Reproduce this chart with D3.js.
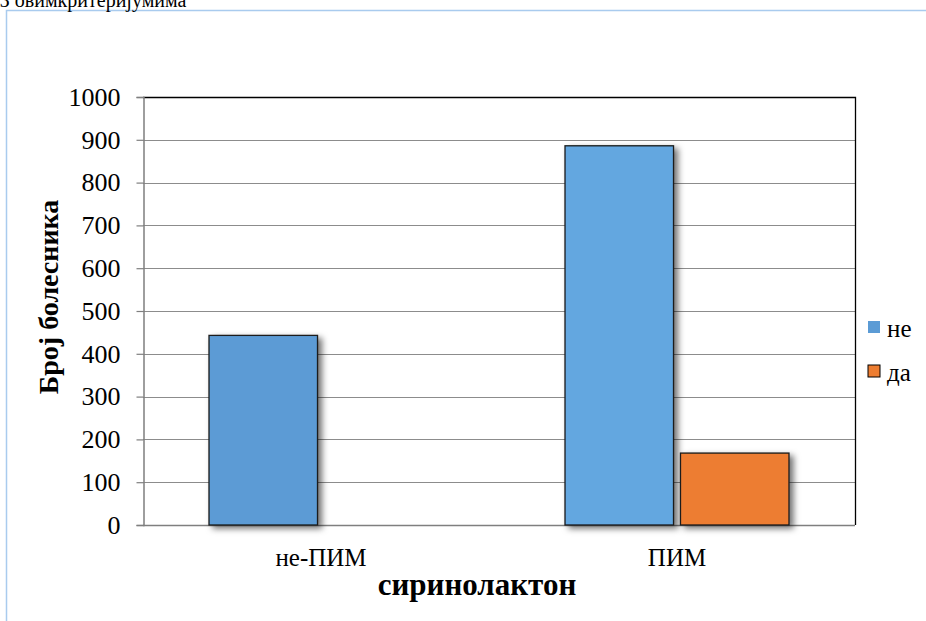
<!DOCTYPE html>
<html>
<head>
<meta charset="utf-8">
<script src="https://cdn.jsdelivr.net/npm/d3@7"></script>
</head>
<body style="margin:0; background:#fff">
<div id="view"></div>
<script>
var width = 926, height = 621;
var serif = "'Liberation Serif', 'Times New Roman', serif";

// data
var categories = ["не-ПИМ", "ПИМ"];
var seriesNames = ["не", "да"];
var valuesNe = [443, 886];
var valuesDa = [0, 168];
var yTicks = [0, 100, 200, 300, 400, 500, 600, 700, 800, 900, 1000];

var seriesColors = { "не": "#5B9BD5", "да": "#ED7D31" };
// the second blue bar is a touch lighter in the original
var barFill = function(d) {
  if (d.series == "не" && d.cat == "ПИМ") return "#63A7E0";
  return seriesColors[d.series];
};

var margin = { left: 143, top: 97, right: 855, bottom: 525 };

var svg = d3.select("#view").append("svg")
  .attr("width", width)
  .attr("height", height)
  .style("display", "block")
  .style("font-family", serif);

var defs = svg.append("defs");
var f = defs.append("filter").attr("id", "shadow")
  .attr("x", "-20%").attr("y", "-20%").attr("width", "150%").attr("height", "150%");
f.append("feDropShadow")
  .attr("dx", 4).attr("dy", 3)
  .attr("stdDeviation", 3)
  .attr("flood-color", "#000")
  .attr("flood-opacity", 0.55);

// outer frame (only top and left are in view)
svg.append("path")
  .attr("d", "M6.5," + height + " V10.5 H" + width)
  .attr("fill", "none")
  .attr("stroke", "#A9CBEE")
  .attr("stroke-width", 1.5);

// caption text at the very top, partly cut off in the source
svg.append("text")
  .attr("x", -8).attr("y", 7)
  .attr("font-size", 20)
  .style("font-family", serif)
  .text("ЈЗ овимкритеријумима");

var y = d3.scaleLinear().domain([0, 1000]).range([margin.bottom, margin.top]);
var x0 = d3.scaleBand().domain(categories).range([margin.left, margin.right]);
var x1 = d3.scaleBand().domain(seriesNames).range([0, 224]).paddingInner(14 / 224 * 2 / 2.07);

// gridlines
svg.append("g").selectAll("line")
  .data(yTicks.filter(function(t) { return t > 0 && t < 1000; }))
  .enter().append("line")
  .attr("x1", margin.left).attr("x2", margin.right)
  .attr("y1", function(d) { return Math.round(y(d)) + 0.5; })
  .attr("y2", function(d) { return Math.round(y(d)) + 0.5; })
  .attr("stroke", "#8C8C8C")
  .attr("stroke-width", 1);

// top and right border
svg.append("path")
  .attr("d", "M" + margin.left + "," + (Math.round(y(1000)) + 0.5) + " H" + (margin.right + 0.5) + " V" + margin.bottom)
  .attr("fill", "none")
  .attr("stroke", "#000")
  .attr("stroke-width", 1.3);

// y axis
var yAxis = svg.append("g")
  .attr("transform", "translate(" + (margin.left + 0.5) + ",0)")
  .call(d3.axisLeft(y).tickValues(yTicks).tickSize(7).tickPadding(16).tickFormat(d3.format("d")));
yAxis.attr("font-family", null).attr("font-size", null);
yAxis.select(".domain").attr("stroke", "#7F7F7F").attr("stroke-width", 1.5);
yAxis.selectAll(".tick line").attr("stroke", "#7F7F7F").attr("stroke-width", 1.2);
yAxis.selectAll(".tick text")
  .style("font-family", serif)
  .attr("font-size", 26)
  .attr("fill", "#000");

// x axis baseline
svg.append("line")
  .attr("x1", margin.left).attr("x2", margin.right)
  .attr("y1", margin.bottom + 0.5).attr("y2", margin.bottom + 0.5)
  .attr("stroke", "#7F7F7F").attr("stroke-width", 1.5);

// bars
var rows = [];
categories.forEach(function(c, i) {
  rows.push({ cat: c, series: "не", value: valuesNe[i] });
  rows.push({ cat: c, series: "да", value: valuesDa[i] });
});

var groupOffset = (x0.bandwidth() - 224) / 2;
svg.append("g").selectAll("rect")
  .data(rows.filter(function(d) { return d.value > 0; }))
  .enter().append("rect")
  .attr("x", function(d) { return x0(d.cat) + groupOffset + x1(d.series); })
  .attr("y", function(d) { return y(d.value); })
  .attr("width", x1.bandwidth())
  .attr("height", function(d) { return y(0) - y(d.value); })
  .attr("fill", barFill)
  .attr("stroke", "#1a1a1a")
  .attr("stroke-width", 1.3)
  .attr("filter", "url(#shadow)");

// category labels
svg.append("g").selectAll("text")
  .data(categories)
  .enter().append("text")
  .attr("x", function(d) { return x0(d) + x0.bandwidth() / 2; })
  .attr("y", 566)
  .attr("text-anchor", "middle")
  .attr("font-size", 25)
  .style("font-family", serif)
  .text(function(d) { return d; });

// axis titles
svg.append("text")
  .attr("x", 477).attr("y", 595)
  .attr("text-anchor", "middle")
  .attr("font-size", 31)
  .attr("font-weight", "bold")
  .style("font-family", serif)
  .text("сиринолактон");

svg.append("text")
  .attr("transform", "translate(58,297) rotate(-90)")
  .attr("text-anchor", "middle")
  .attr("font-size", 28)
  .attr("font-weight", "bold")
  .style("font-family", serif)
  .text("Број болесника");

// legend
var legend = svg.append("g").selectAll("g")
  .data(seriesNames)
  .enter().append("g")
  .attr("transform", function(d, i) { return "translate(868," + (321 + i * 44) + ")"; });
legend.append("rect")
  .attr("width", 12).attr("height", 12)
  .attr("fill", function(d) { return seriesColors[d]; })
  .attr("stroke", function(d) { return d == "да" ? "#000" : "none"; })
  .attr("stroke-width", 1);
legend.append("text")
  .attr("x", 19).attr("y", 16)
  .attr("font-size", 25)
  .style("font-family", serif)
  .text(function(d) { return d; });
</script>
</body>
</html>
